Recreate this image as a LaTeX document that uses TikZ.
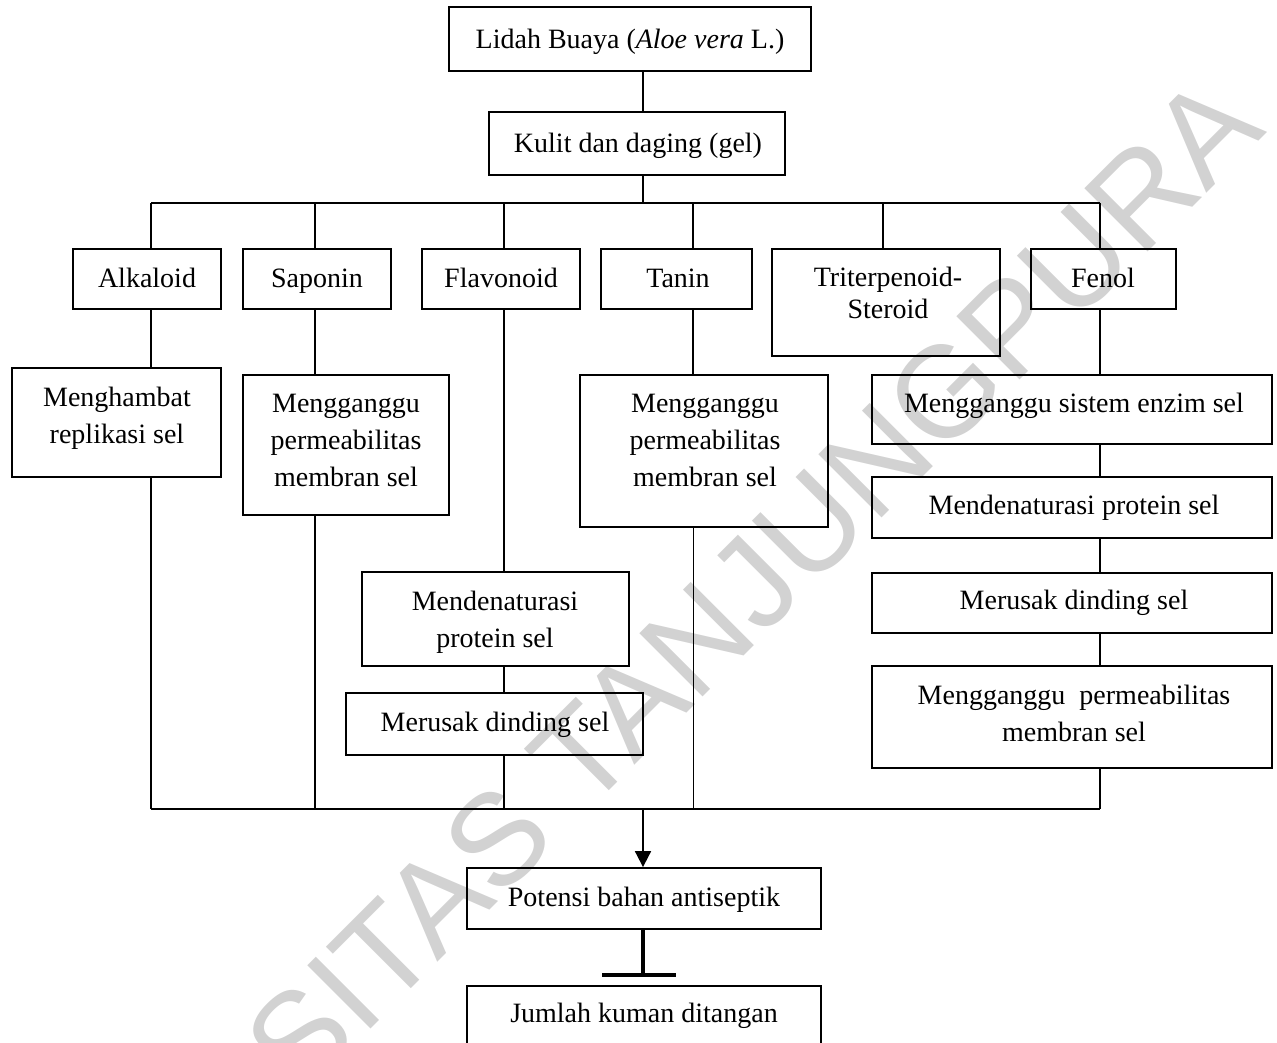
\documentclass[tikz,border=0pt]{standalone}
\usepackage{fontspec}
\setmainfont{Liberation Serif}
\newfontfamily\wmfont{Liberation Sans}
\usetikzlibrary{arrows.meta}
\definecolor{wmgray}{RGB}{210,210,210}
\tikzset{
  boxsty/.style={draw, line width=1.8pt, inner sep=0pt, rectangle},
  txt/.style={align=center, inner sep=0pt, font=\fontsize{28}{37}\selectfont,
    execute at begin node=\strut, execute at end node=\strut},
  conn/.style={line width=1.8pt},
  thinconn/.style={line width=1pt},
  inhib/.style={line width=4pt},
}
\newcommand{\mybox}[5]{\node[boxsty, minimum width={(#4)-(#2)}, minimum height={(#5)-(#3)}] (#1) at ({((#2)+(#4))/2},{((#3)+(#5))/2}) {};}
\begin{document}
\begin{tikzpicture}[x=1pt,y=-1pt]
\useasboundingbox (0,0) rectangle (1277,1043);
\clip (0,0) rectangle (1277,1043);
% watermark
\node[font=\wmfont\fontsize{130}{130}\selectfont, text=wmgray, rotate=45, anchor=base east, inner sep=0pt] (wmark) at (1268,132) {UNIVERSITAS TANJUNGPURA};

% boxes
\mybox{topb}{449}{7}{811}{71}
\mybox{kul}{489}{112}{785}{175}
\mybox{alk}{73}{249}{221}{309}
\mybox{sap}{243}{249}{391}{309}
\mybox{fla}{422}{249}{580}{309}
\mybox{tan}{601}{249}{752}{309}
\mybox{tri}{772}{249}{1000}{356}
\mybox{fen}{1031}{249}{1176}{309}
\mybox{meng}{12}{368}{221}{477}
\mybox{sapE}{243}{375}{449}{515}
\mybox{flaD}{362}{572}{629}{666}
\mybox{flaM}{346}{693}{643}{755}
\mybox{tanE}{580}{375}{828}{527}
\mybox{fA}{872}{375}{1272}{444}
\mybox{fB}{872}{477}{1272}{538}
\mybox{fC}{872}{573}{1272}{633}
\mybox{fD}{872}{666}{1272}{768}
\mybox{pot}{467}{868}{821}{929}
\mybox{jum}{467}{986}{821}{1052}

% texts
\node[txt] (topb-t) at (630,41) {Lidah Buaya (\textit{Aloe vera} L.)};
\node[txt] (kul-t) at (638,145) {Kulit dan daging (gel)};
\node[txt] (alk-t) at (147,280) {Alkaloid};
\node[txt] (sap-t) at (317,280) {Saponin};
\node[txt] (fla-t) at (501,280) {Flavonoid};
\node[txt] (tan-t) at (678,280) {Tanin};
\node[txt, font=\fontsize{28}{32}\selectfont] (tri-t) at (888,298) {Triterpenoid-\\Steroid};
\node[txt] (fen-t) at (1103,280) {Fenol};
\node[txt] (meng-t) at (117,421) {Menghambat\\replikasi sel};
\node[txt] (sapE-t) at (346,446) {Mengganggu\\permeabilitas\\membran sel};
\node[txt] (flaD-t) at (495,625) {Mendenaturasi\\protein sel};
\node[txt] (flaM-t) at (495,724) {Merusak dinding sel};
\node[txt] (tanE-t) at (705,446) {Mengganggu\\permeabilitas\\membran sel};
\node[txt] (fA-t) at (1074,405) {Mengganggu sistem enzim sel};
\node[txt] (fB-t) at (1074,507) {Mendenaturasi protein sel};
\node[txt] (fC-t) at (1074,602) {Merusak dinding sel};
\node[txt] (fD-t) at (1074,719) {Mengganggu\ \ permeabilitas\\membran sel};
\node[txt] (pot-t) at (644,899) {Potensi bahan antiseptik};
\node[txt] (jum-t) at (644,1015) {Jumlah kuman ditangan};

% coordinates
\coordinate (xm) at (643,0);
\coordinate (bL) at (151,203);
\coordinate (d2) at (315,203);
\coordinate (d3) at (504,203);
\coordinate (d4) at (693,203);
\coordinate (d5) at (883,203);
\coordinate (bR) at (1100,203);
\coordinate (lL) at (151,809);
\coordinate (lR) at (1100,809);
\coordinate (am) at (643,809);
\coordinate (inh) at (643,975);
\coordinate (inhL) at (602,975);
\coordinate (inhR) at (676,975);

% connectors
\draw[conn] (topb.south -| xm) -- (kul.north -| xm);
\draw[conn] (kul.south -| xm) -- (bL -| xm);
\draw[conn] (bL) -- (bR);
\draw[conn] (bL) -- (bL |- alk.north);
\draw[conn] (d2) -- (d2 |- sap.north);
\draw[conn] (d3) -- (d3 |- fla.north);
\draw[conn] (d4) -- (d4 |- tan.north);
\draw[conn] (d5) -- (d5 |- tri.north);
\draw[conn] (bR) -- (bR |- fen.north);

\draw[conn] (alk.south -| bL) -- (meng.north -| bL);
\draw[conn] (meng.south -| bL) -- (lL);
\draw[conn] (sap.south -| d2) -- (sapE.north -| d2);
\draw[conn] (sapE.south -| d2) -- (d2 |- lL);
\draw[conn] (fla.south -| d3) -- (flaD.north -| d3);
\draw[conn] (flaD.south -| d3) -- (flaM.north -| d3);
\draw[conn] (flaM.south -| d3) -- (d3 |- lL);
\draw[conn] (tan.south -| d4) -- (tanE.north -| d4);
\draw[thinconn] (tanE.south -| d4) -- (d4 |- lL);
\draw[conn] (fen.south -| bR) -- (fA.north -| bR);
\draw[conn] (fA.south -| bR) -- (fB.north -| bR);
\draw[conn] (fB.south -| bR) -- (fC.north -| bR);
\draw[conn] (fC.south -| bR) -- (fD.north -| bR);
\draw[conn] (fD.south -| bR) -- (lR);
\draw[conn] (lL) -- (lR);

\draw[conn, -{Triangle[length=16pt,width=16pt]}] (am) -- (pot.north -| am);
\draw[inhib] (pot.south -| am) -- (inh);
\draw[inhib] (inhL) -- (inhR);
\end{tikzpicture}
\end{document}
